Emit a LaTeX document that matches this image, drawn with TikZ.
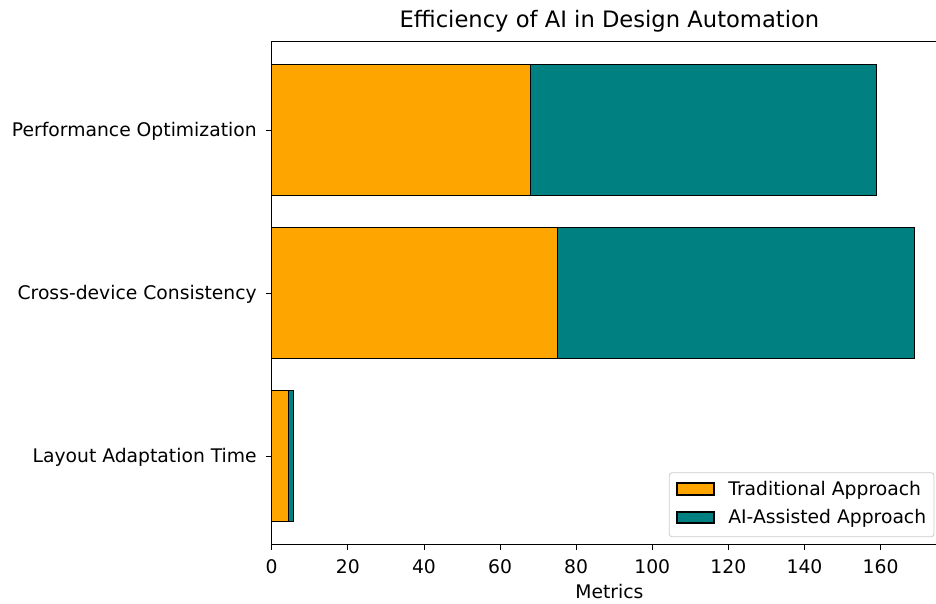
\documentclass[tikz,border=0pt]{standalone}
\usepackage{fontspec}
\setmainfont{DejaVu Sans}
\usetikzlibrary{positioning}

\definecolor{traditional}{RGB}{255,165,0}
\definecolor{aiassisted}{RGB}{0,128,128}
\definecolor{framegray}{RGB}{204,204,204}

\begin{document}
\begin{tikzpicture}[
    x=0.72pt, y=0.72pt,
    bar/.style={draw=black, line width=0.75pt},
    spine/.style={draw=black, line width=0.6pt},
    tickmark/.style={draw=black, line width=0.6pt},
    ticklabel/.style={font=\fontsize{13.5}{16}\selectfont, inner sep=0pt},
    legendbox/.style={draw=framegray, fill=white, rounded corners=2pt, line width=0.6pt},
    handle/.style={draw=black, line width=0.75pt}
]
\useasboundingbox (0,0) rectangle (936,603);

% title
\node[font=\fontsize{16.3}{19}\selectfont, inner sep=0pt, anchor=base] (title) at (609.4,575) {Efficiency of AI in Design Automation};

% axes in data units: x = metric value, y = category index
\begin{scope}[shift={(271.7,147)}, x=2.740pt, y=117.36pt]
    % stacked bars
    \foreach \i/\trad/\ai in {0/4.5/1.2, 1/75/94, 2/68/91} {
        \draw[bar, fill=traditional] (0,\i-0.4) rectangle (\trad,\i+0.4);
        \draw[bar, fill=aiassisted] (\trad,\i-0.4) rectangle (\trad+\ai,\i+0.4);
    }

    % frame
    \draw[spine] (0,-0.545) rectangle (177.45,2.545);

    % x ticks
    \foreach \v in {0,20,...,160} {
        \draw[tickmark] (\v,-0.545) -- ++(0,-3.8pt);
        \node[ticklabel, anchor=base] (xtick\v) at ([yshift=-20.4pt]\v,-0.545) {\v};
    }

    % y ticks and category names
    \foreach \i/\name in {0/Layout Adaptation Time, 1/Cross-device Consistency, 2/Performance Optimization} {
        \draw[tickmark] (0,\i) -- ++(-3.8pt,0);
        \node[ticklabel, anchor=base east] (ytick\i) at ([xshift=-10.6pt, yshift=-4.7pt]0,\i) {\name};
    }
\end{scope}

% axis label
\node[ticklabel, anchor=base] (xlabel) at (609.4,5) {Metrics};

% legend
\draw[legendbox] (669.3,66.3) rectangle (934,130.3);
\draw[handle, fill=traditional] (677,108) rectangle (714,120);
\node[ticklabel, anchor=base west] (legtrad) at (728,108) {Traditional Approach};
\draw[handle, fill=aiassisted] (677,80) rectangle (714,91);
\node[ticklabel, anchor=base west] (legai) at (728,80) {AI-Assisted Approach};

\end{tikzpicture}
\end{document}
